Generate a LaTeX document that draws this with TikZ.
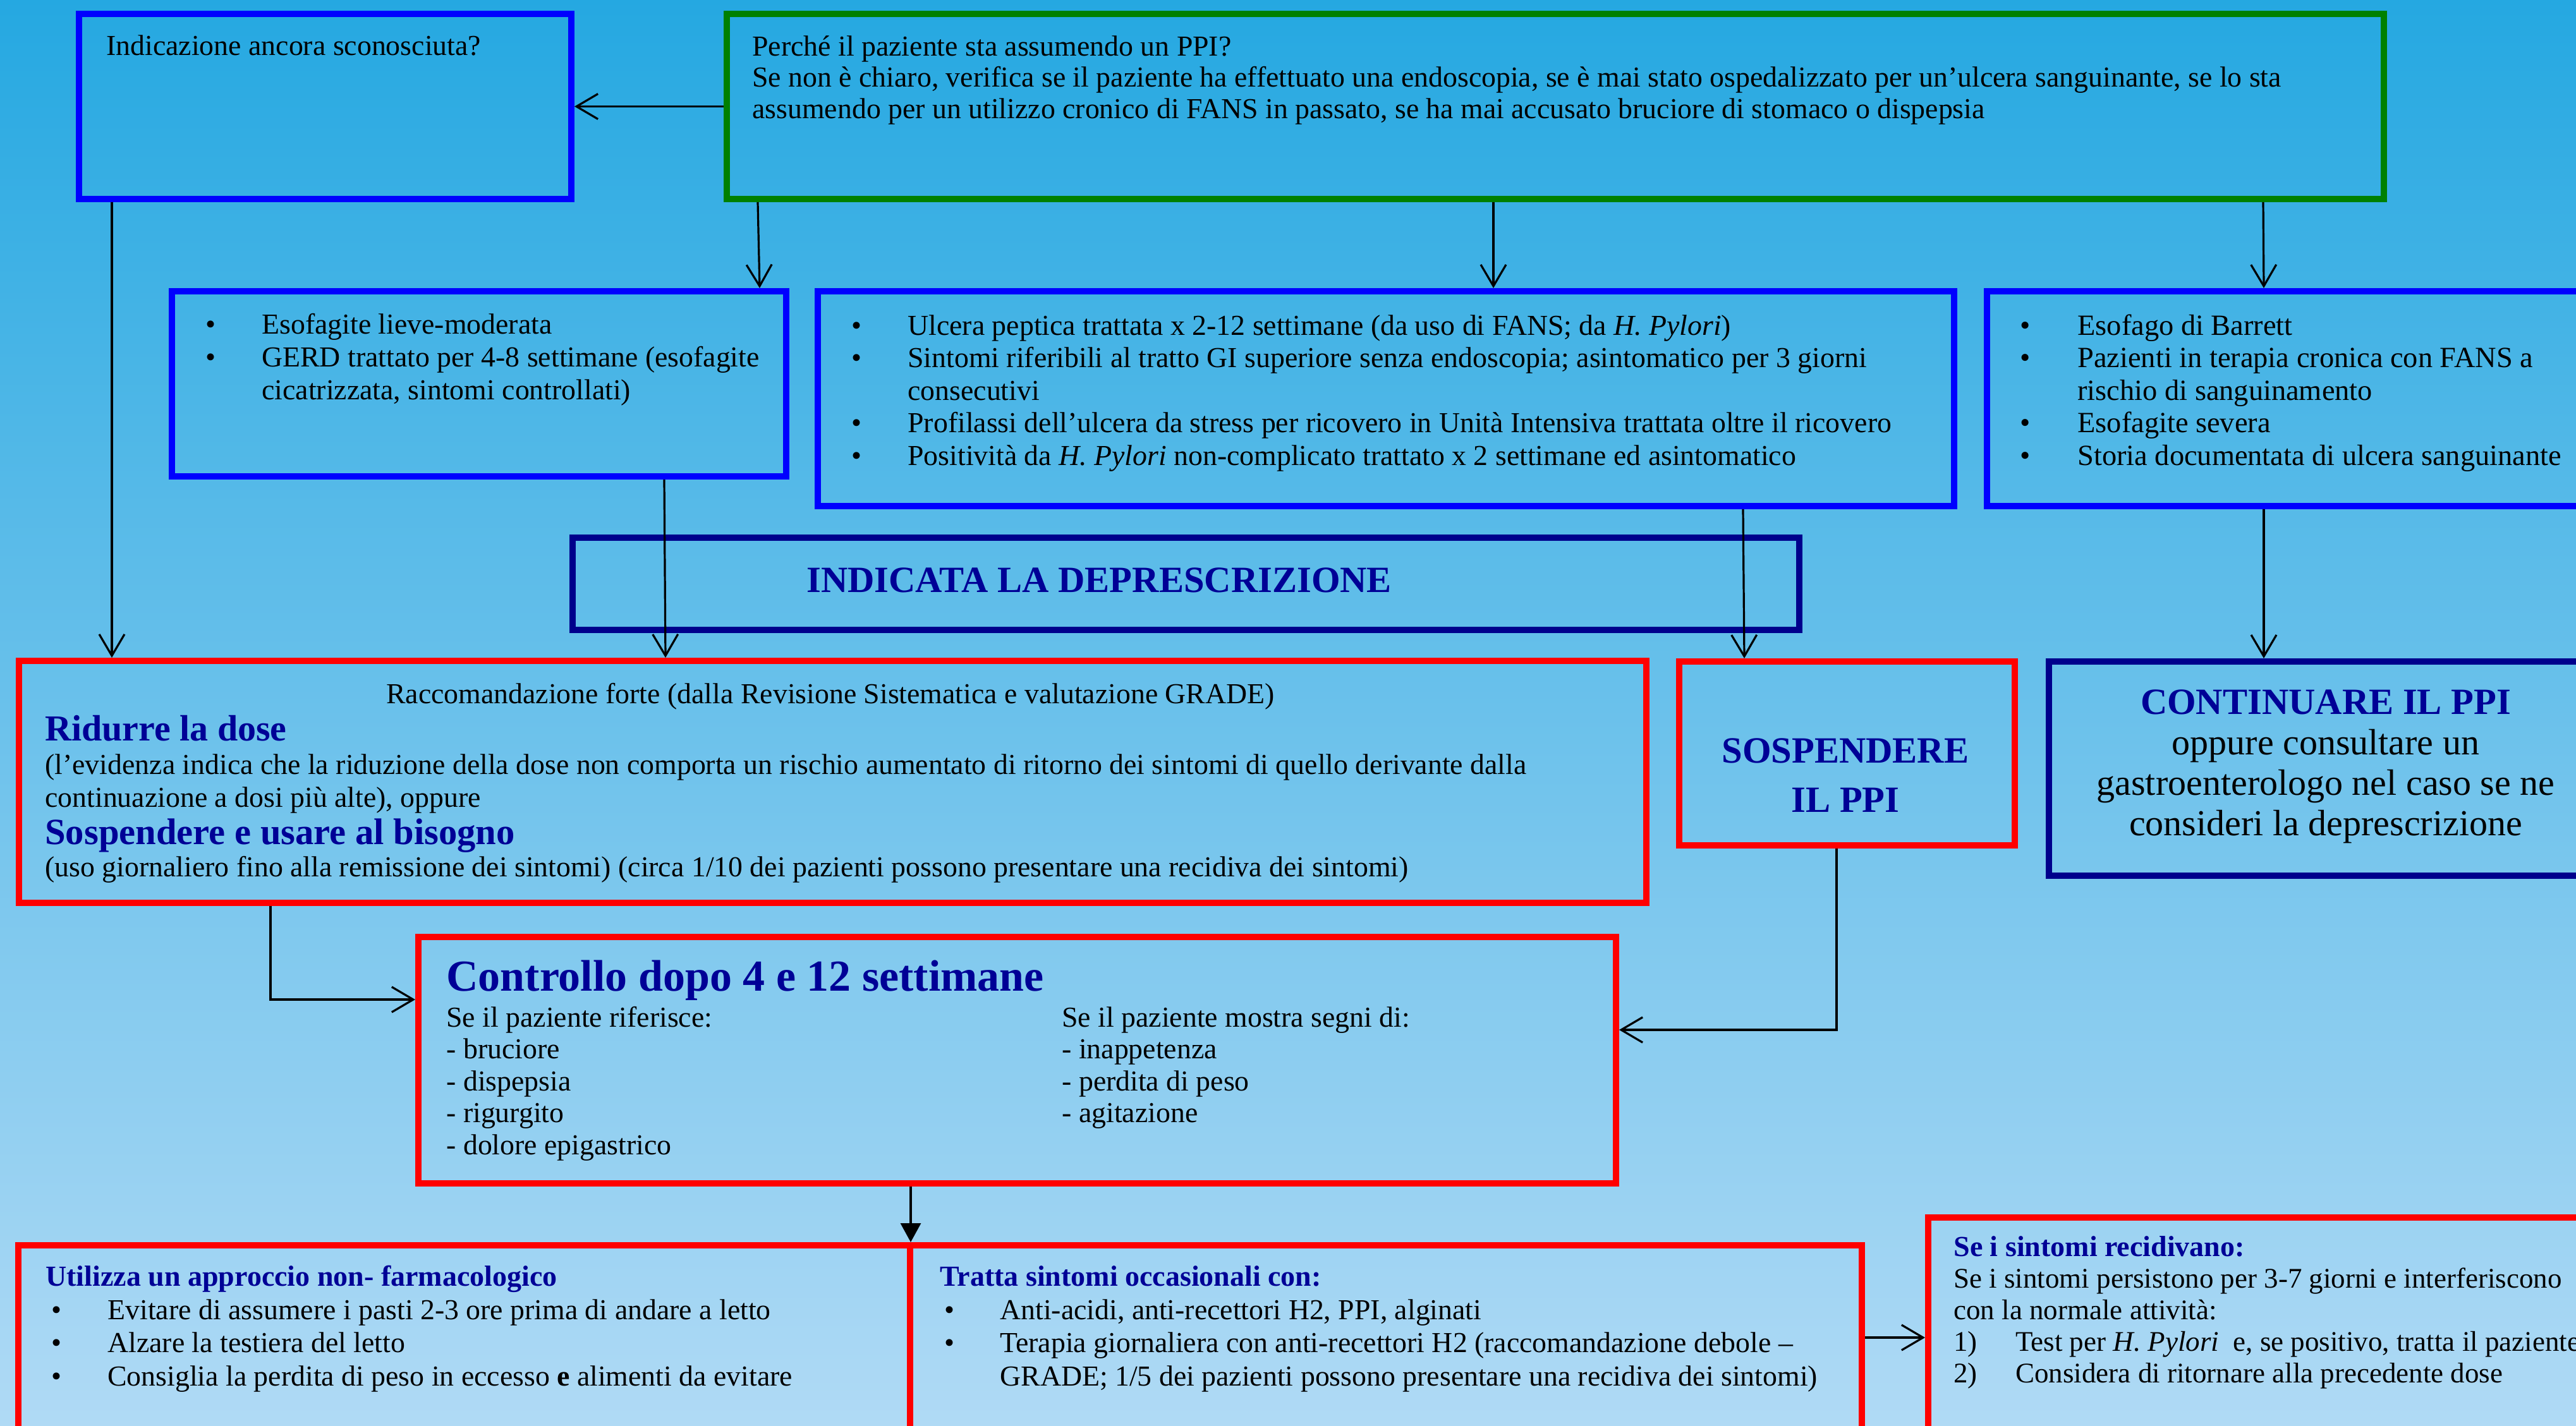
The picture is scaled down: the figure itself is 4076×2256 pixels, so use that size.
\documentclass[tikz,border=0pt]{standalone}
\usepackage{fontspec}
\setmainfont{Liberation Serif}
\usetikzlibrary{arrows.meta,fit}
\definecolor{bgtop}{RGB}{37,168,225}
\definecolor{bgbot}{RGB}{176,218,245}
\definecolor{navy}{RGB}{0,0,150}
\definecolor{boxblue}{RGB}{0,0,255}
\definecolor{boxgreen}{RGB}{0,128,0}
\definecolor{boxred}{RGB}{255,0,0}
\definecolor{boxnavy}{RGB}{0,0,140}
\newcommand{\fs}[2]{\fontsize{#1}{#2}\selectfont}
\newcommand{\bul}[1]{\makebox[#1][l]{\textbullet}}
\tikzset{
  box/.style={draw, line width=5pt, inner sep=0pt},
  bluebox/.style={box, draw=boxblue},
  greenbox/.style={box, draw=boxgreen},
  redbox/.style={box, draw=boxred},
  navybox/.style={box, draw=boxnavy},
  txt/.style={inner sep=0pt, anchor=base west, text=black},
  ctxt/.style={inner sep=0pt, anchor=base, text=black},
  head/.style={txt, text=navy, font=\bfseries},
  arr/.style={line width=1.6pt, -{Straight Barb[length=17pt,width=20pt]}},
  filarr/.style={line width=1.6pt, -{Triangle[length=15pt,width=16pt]}}
}
\begin{document}
\begin{tikzpicture}[x=0.5pt,y=-0.5pt]
\useasboundingbox (0,0) rectangle (4076,2256);
\shade[top color=bgtop, bottom color=bgbot] (0,0) rectangle (4076,2256);

% boxes
\node[bluebox, fit={(125,22) (904,315)}] (b1) {};
\node[greenbox, fit={(1150,22) (3772,315)}] (green) {};
\node[bluebox, fit={(272,461) (1244,754)}] (A) {};
\node[bluebox, fit={(1294,461) (3092,801)}] (B) {};
\node[bluebox, fit={(3144,461) (4135,801)}] (C) {};
\node[navybox, fit={(906,851) (2847,997)}] (ind) {};
\node[redbox, fit={(30,1046) (2605,1429)}] (rac) {};
\node[redbox, fit={(2657,1047) (3188,1338)}] (sosp) {};
\node[navybox, fit={(3242,1047) (4125,1386)}] (cont) {};
\node[redbox, fit={(662,1483) (2557,1873)}] (ctrl) {};
\node[redbox, fit={(29,1971) (1440,2300)}] (L) {};
\node[redbox, fit={(1440,1971) (2946,2300)}] (M) {};
\node[redbox, fit={(3051,1927) (4125,2300)}] (R) {};

% texts
\node[txt] (t1) at (168,87) {\fs{22.9}{25}Indicazione ancora sconosciuta?};
\node[txt] (tg) at (1190,88) {\parbox[t]{1400pt}{\fs{22.9}{24.75}Perché il paziente sta assumendo un PPI?\\
Se non è chiaro, verifica se il paziente ha effettuato una endoscopia, se è mai stato ospedalizzato per un’ulcera sanguinante, se lo sta\\
assumendo per un utilizzo cronico di FANS in passato, se ha mai accusato bruciore di stomaco o dispepsia}};

\node[txt] (tA) at (325,528) {\parbox[t]{700pt}{\fs{22.9}{26}\bul{44.5pt}Esofagite lieve-moderata\\
\bul{44.5pt}GERD trattato per 4-8 settimane (esofagite\\
\hspace*{44.5pt}cicatrizzata, sintomi controllati)}};

\node[txt] (tB) at (1347,530) {\parbox[t]{1000pt}{\fs{22.9}{25.75}\bul{44.5pt}Ulcera peptica trattata x 2-12 settimane (da uso di FANS; da \textit{H. Pylori})\\
\bul{44.5pt}Sintomi riferibili al tratto GI superiore senza endoscopia; asintomatico per 3 giorni\\
\hspace*{44.5pt}consecutivi\\
\bul{44.5pt}Profilassi dell’ulcera da stress per ricovero in Unità Intensiva trattata oltre il ricovero\\
\bul{44.5pt}Positività da \textit{H. Pylori} non-complicato trattato x 2 settimane ed asintomatico}};

\node[txt] (tC) at (3196,530) {\parbox[t]{600pt}{\fs{23.2}{25.75}\bul{45.5pt}Esofago di Barrett\\
\bul{45.5pt}Pazienti in terapia cronica con FANS a\\
\hspace*{45.5pt}rischio di sanguinamento\\
\bul{45.5pt}Esofagite severa\\
\bul{45.5pt}Storia documentata di ulcera sanguinante}};

\node[head] (tind) at (1276,937) {\fs{29.3}{34}\bfseries INDICATA LA DEPRESCRIZIONE};

\node[ctxt] (trac0) at (1314,1113) {\fs{22.9}{25}Raccomandazione forte (dalla Revisione Sistematica e valutazione GRADE)};
\node[head] (trac1) at (71,1172) {\fs{29}{30}\bfseries Ridurre la dose};
\node[txt] (trac2) at (71,1225) {\parbox[t]{1400pt}{\fs{22.9}{26}(l’evidenza indica che la riduzione della dose non comporta un rischio aumentato di ritorno dei sintomi di quello derivante dalla\\
continuazione a dosi più alte), oppure}};
\node[head] (trac3) at (71,1336) {\fs{29.3}{30}\bfseries Sospendere e usare al bisogno};
\node[txt] (trac4) at (71,1387) {\fs{22.9}{26}(uso giornaliero fino alla remissione dei sintomi) (circa 1/10 dei pazienti possono presentare una recidiva dei sintomi)};

\node[ctxt, text=navy] (tsosp) at (2920,1207) {\parbox[t]{250pt}{\centering\fs{29.3}{39}\bfseries SOSPENDERE\\IL PPI}};

\node[ctxt] (tcont) at (3680,1130) {\parbox[t]{500pt}{\centering\fs{29}{32}\leavevmode{\color{navy}\fs{29.3}{32}\bfseries CONTINUARE IL PPI}\\
oppure consultare un\\
gastroenterologo nel caso se ne\\
consideri la deprescrizione}};

\node[head] (tc0) at (706,1568) {\fs{35}{36}\bfseries Controllo dopo 4 e 12 settimane};
\node[txt] (tc1) at (706,1625) {\parbox[t]{400pt}{\fs{22.9}{25.3}Se il paziente riferisce:\\- bruciore\\- dispepsia\\- rigurgito\\- dolore epigastrico}};
\node[txt] (tc2) at (1680,1625) {\parbox[t]{400pt}{\fs{22.9}{25.3}Se il paziente mostra segni di:\\- inappetenza\\- perdita di peso\\- agitazione}};

\node[head] (tl0) at (72,2035) {\fs{23}{25}\bfseries Utilizza un approccio non- farmacologico};
\node[txt] (tl1) at (81,2088) {\parbox[t]{700pt}{\fs{22.9}{26.25}\bul{44.5pt}Evitare di assumere i pasti 2-3 ore prima di andare a letto\\
\bul{44.5pt}Alzare la testiera del letto\\
\bul{44.5pt}Consiglia la perdita di peso in eccesso \textbf{e} alimenti da evitare}};

\node[head] (tm0) at (1487,2035) {\fs{23}{25}\bfseries Tratta sintomi occasionali con:};
\node[txt] (tm1) at (1494,2088) {\parbox[t]{760pt}{\fs{22.9}{26.25}\bul{44pt}Anti-acidi, anti-recettori H2, PPI, alginati\\
\bul{44pt}Terapia giornaliera con anti-recettori H2 (raccomandazione debole –\\
\hspace*{44pt}GRADE; 1/5 dei pazienti possono presentare una recidiva dei sintomi)}};

\node[head] (tr0) at (3091,1988) {\fs{23}{25}\bfseries Se i sintomi recidivano:};
\node[txt] (tr1) at (3091,2038) {\parbox[t]{700pt}{\fs{22.5}{25}Se i sintomi persistono per 3-7 giorni e interferiscono\\
con la normale attività:\\
\makebox[49pt][l]{1)}Test per \textit{H. Pylori}\ \ e, se positivo, tratta il paziente\\
\makebox[49pt][l]{2)}Considera di ritornare alla precedente dose}};

% connectors
\draw[arr] (green.west) -- (b1.east);
\draw[arr] (1199,0 |- green.south) -- (1202,0 |- A.north);
\draw[arr] (2363,0 |- green.south) -- (2363,0 |- B.north);
\draw[arr] (3581,0 |- green.south) -- (3582,0 |- C.north);
\draw[arr] (177,0 |- b1.south) -- (177,0 |- rac.north);
\draw[arr] (1051,0 |- A.south) -- (1053,0 |- rac.north);
\draw[arr] (2758,0 |- B.south) -- (2760,0 |- sosp.north);
\draw[arr] (3582,0 |- C.south) -- (3582,0 |- cont.north);
\draw[arr] (428,0 |- rac.south) |- (ctrl.west |- 0,1582);
\draw[arr] (2906,0 |- sosp.south) |- (ctrl.east |- 0,1630);
\draw[filarr] (1441,0 |- ctrl.south) -- (1441,0 |- L.north);
\draw[arr] (M.east |- 0,2117) -- (R.west |- 0,2117);
\end{tikzpicture}
\end{document}
